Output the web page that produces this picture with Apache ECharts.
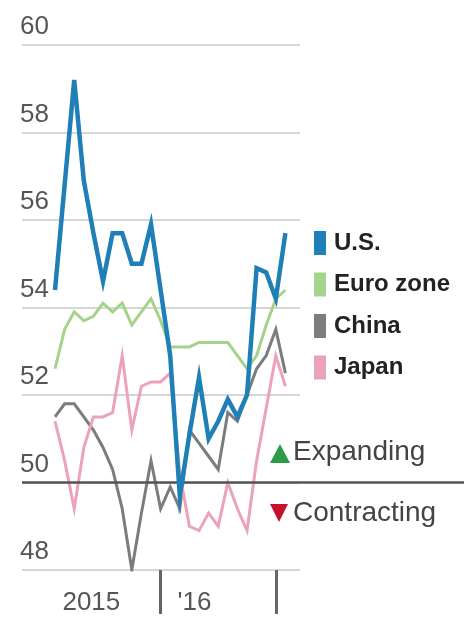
<!DOCTYPE html>
<html>
<head>
<meta charset="utf-8">
<script src="https://cdn.jsdelivr.net/npm/echarts@6/dist/echarts.min.js"></script>
<style>
html,body{margin:0;padding:0;background:#fff;}
#chart{width:464px;height:619px;}
</style>
</head>
<body>
<div id="chart"></div>
<script>
// month index (0 = first month shown, 12 months per year)
const monthIndex = [0,1,2,3,4,5,6,7,8,9,10,11,12,13,14,15,16,17,18,19,20,21,22,23,24];
const usPMI    = [54.4,56.8,59.2,56.9,55.7,54.6,55.7,55.7,55.0,55.0,55.9,54.4,52.9,49.7,51.1,52.4,51.0,51.4,51.9,51.5,52.0,54.9,54.8,54.2,55.7];
const euroPMI  = [52.6,53.5,53.9,53.7,53.8,54.1,53.9,54.1,53.6,53.9,54.2,53.7,53.1,53.1,53.1,53.2,53.2,53.2,53.2,52.9,52.6,52.9,53.6,54.2,54.4];
const chinaPMI = [51.5,51.8,51.8,51.5,51.2,50.8,50.3,49.4,48.0,49.3,50.5,49.4,49.9,49.4,51.2,50.9,50.6,50.3,51.6,51.4,52.0,52.6,52.9,53.5,52.5];
const japanPMI = [51.4,50.5,49.4,50.8,51.5,51.5,51.6,52.9,51.2,52.2,52.3,52.3,52.5,50.2,49.0,48.9,49.3,49.0,50.0,49.4,48.9,50.5,51.7,52.9,52.2];
const seriesNames = ['U.S.','Euro zone','China','Japan'];
const yearLabels = ['2015', "'16"];
const yearStarts = [-1, 11];      // month index where each year label begins
const yearTicks = [11, 23];       // year-boundary ticks
const threshold = 50;             // expanding / contracting line
const yTicks = {min:48, max:60, step:2};

const colors = ['#1f80b8','#a6d38a','#7c7c7c','#eaa3b9'];
const FONT = '"Liberation Sans", Arial, sans-serif';

function pairs(arr){ return arr.map((v,i)=>[monthIndex[i], v]); }

const chart = echarts.init(document.getElementById('chart'), null, {renderer:'canvas'});
const dataSets = [usPMI, euroPMI, chinaPMI, japanPMI];
const widths = [4.5, 3, 3, 3];
const zs = [5, 3, 2, 4];

const series = seriesNames.map((n,i)=>({
  name:n, type:'line', xAxisIndex:0, yAxisIndex:0,
  data: pairs(dataSets[i]), showSymbol:false, symbol:'none',
  lineStyle:{color:colors[i], width:widths[i], join:'miter'},
  itemStyle:{color:colors[i]}, z:zs[i], silent:true
}));
series.push({
  type:'line', xAxisIndex:1, yAxisIndex:1, data:[], silent:true,
  markLine:{silent:true, symbol:'none', label:{show:false},
    lineStyle:{color:'#555', width:2.5, type:'solid'},
    data:[{yAxis:threshold}]},
  z:6
});

chart.setOption({
  animation:false,
  backgroundColor:'#fff',
  grid:[
    {left:22, right:164, top:45, bottom:49},
    {left:22, right:0, top:45, bottom:49}
  ],
  xAxis:[
    {type:'value', gridIndex:0, min:-3.44, max:25.52,
     axisLine:{show:false}, splitLine:{show:false},
     axisTick:{show:true, customValues:yearTicks, length:44, lineStyle:{color:'#666', width:3}},
     axisLabel:{show:true, customValues:yearStarts, margin:20, align:'left', padding:[0,0,0,17],
       fontSize:26, color:'#555', fontFamily:FONT,
       formatter:(v)=>{const k=yearStarts.indexOf(v); return k>=0?yearLabels[k]:'';}}
    },
    {type:'value', gridIndex:1, min:0, max:1, show:false}
  ],
  yAxis:[
    {type:'value', gridIndex:0, min:yTicks.min, max:yTicks.max, interval:yTicks.step,
     axisLine:{show:false}, axisTick:{show:false},
     splitLine:{show:true, lineStyle:{color:'#d6d6d6', width:2}},
     axisLabel:{margin:2, align:'left', verticalAlign:'bottom', padding:[0,0,5,0],
       fontSize:26, color:'#555', fontFamily:FONT}
    },
    {type:'value', gridIndex:1, min:yTicks.min, max:yTicks.max, show:false}
  ],
  legend:{
    data:seriesNames, orient:'vertical', left:309, top:226,
    icon:'rect', itemWidth:12, itemHeight:24, itemGap:17.5,
    selectedMode:false,
    textStyle:{fontSize:24, fontWeight:'bold', color:'#222', fontFamily:FONT, padding:[0,0,0,3]}
  },
  graphic:[
    {type:'polygon', shape:{points:[[270,463],[280,444],[290,463]]}, style:{fill:'#2e9b4a'}},
    {type:'text', left:293, top:438, style:{text:'Expanding', font:'28px '+FONT, fill:'#444'}},
    {type:'polygon', shape:{points:[[270,504],[288,504],[279,522]]}, style:{fill:'#c8102e'}},
    {type:'text', left:293, top:499, style:{text:'Contracting', font:'28px '+FONT, fill:'#444'}}
  ],
  series:series
});
</script>
</body>
</html>
